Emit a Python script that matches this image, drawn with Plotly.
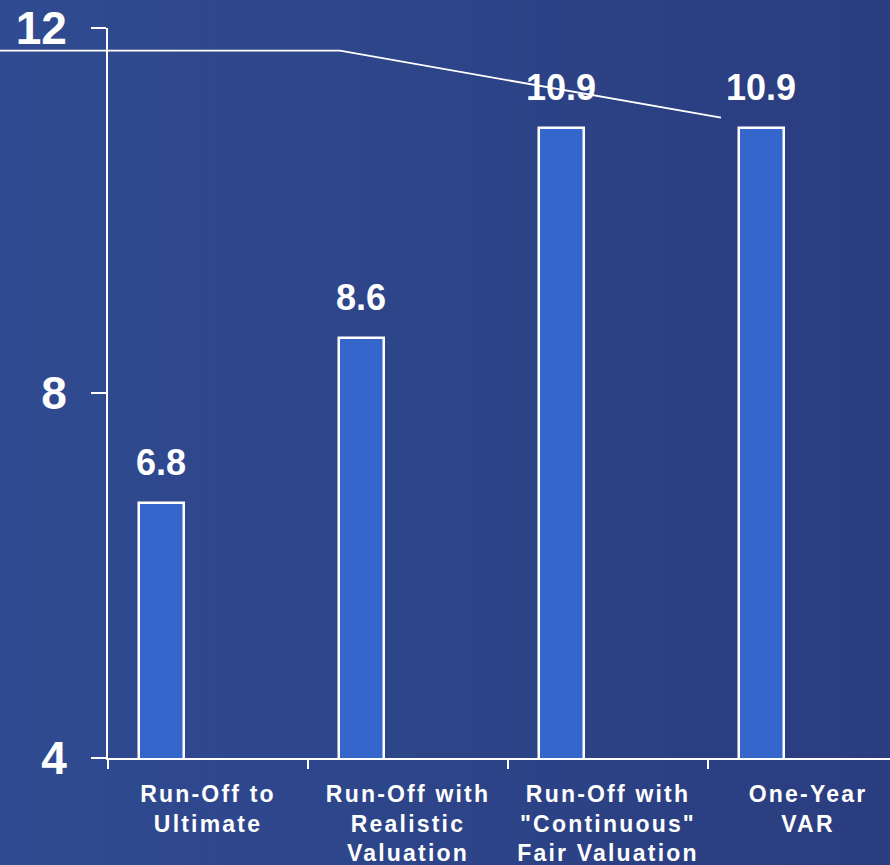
import plotly.graph_objects as go

# Chart data
categories = ["Run-Off to<br>Ultimate",
              "Run-Off with<br>Realistic<br>Valuation",
              "Run-Off with<br>\"Continuous\"<br>Fair Valuation",
              "One-Year<br>VAR"]
values = [6.8, 8.6, 10.9, 10.9]
y_ticks = [4, 8, 12]

FONT = "Liberation Sans, Arial, sans-serif"
BAR_OFFSET = 0.265   # bar centre inside each category slot
BAR_WIDTH = 0.225

slots = list(range(len(categories)))
bar_x = [i + BAR_OFFSET for i in slots]
label_x = [i + 0.5 for i in slots]

fig = go.Figure()
fig.add_trace(go.Bar(
    x=bar_x, y=values, width=BAR_WIDTH,
    marker=dict(color="#3566CC", line=dict(color="white", width=2.5)),
    hoverinfo="skip",
))

annotations = []
for x, v in zip(bar_x, values):
    annotations.append(dict(
        x=x, y=v, xref="x", yref="y", text=f"<b>{v:.1f}</b>",
        showarrow=False, yanchor="bottom", yshift=18,
        font=dict(family=FONT, size=36, color="white"),
    ))

# horizontal background gradient (paper coordinates span the full page)
L, T, B = 108, 28, 107
W, H = 890, 865
pw, ph = W - L, H - T - B
left_rgb = (0x30, 0x4B, 0x91)
right_rgb = (0x2A, 0x3D, 0x7F)
shapes = []
n = 60
for k in range(n):
    f = k / (n - 1)
    c = tuple(round(a + (b - a) * f) for a, b in zip(left_rgb, right_rgb))
    x0 = (k * W / n - L) / pw
    x1 = ((k + 1) * W / n + 1 - L) / pw
    shapes.append(dict(type="rect", xref="paper", yref="paper",
                       x0=x0, x1=x1, y0=-B / ph, y1=(H - B) / ph,
                       fillcolor="rgb(%d,%d,%d)" % c, line=dict(width=0),
                       layer="below"))


def px(p):
    return (p - L) / pw


def py(p):
    return (H - B - p) / ph


# thin white rule across the top
shapes.append(dict(type="path", xref="paper", yref="paper",
                   path=f"M {px(0)},{py(50.7)} L {px(340)},{py(50.7)} L {px(721)},{py(117.7)}",
                   line=dict(color="white", width=1.8), layer="above"))

spaced = '<span style="letter-spacing:2.2px">'
fig.update_layout(
    width=W, height=H,
    margin=dict(l=L, r=0, t=T, b=B, pad=0),
    paper_bgcolor="#2D4488",
    plot_bgcolor="rgba(0,0,0,0)",
    showlegend=False,
    shapes=shapes,
    annotations=annotations,
    bargap=0,
)
fig.update_xaxes(
    range=[0, pw / 200.0],
    tickvals=label_x,
    ticktext=[spaced + c.replace("<br>", "</span><br>" + spaced) + "</span>" for c in categories],
    ticks="", showgrid=False, zeroline=False,
    showline=True, linecolor="white", linewidth=2,
    tickfont=dict(family=FONT, size=23, color="white", weight="bold"),
    ticklabelstandoff=14,
    minor=dict(tickvals=slots, ticks="outside", ticklen=9, tickwidth=2,
               tickcolor="white", showgrid=False),
)
fig.update_yaxes(
    range=[4, 12],
    tickvals=y_ticks,
    ticktext=[f"<b>{t}</b>" for t in y_ticks],
    ticks="outside", ticklen=15, tickwidth=2, tickcolor="white",
    showgrid=False, zeroline=False,
    showline=True, linecolor="white", linewidth=2,
    tickfont=dict(family=FONT, size=46, color="white"),
    ticklabelstandoff=15,
)

fig.write_html("out.html")
